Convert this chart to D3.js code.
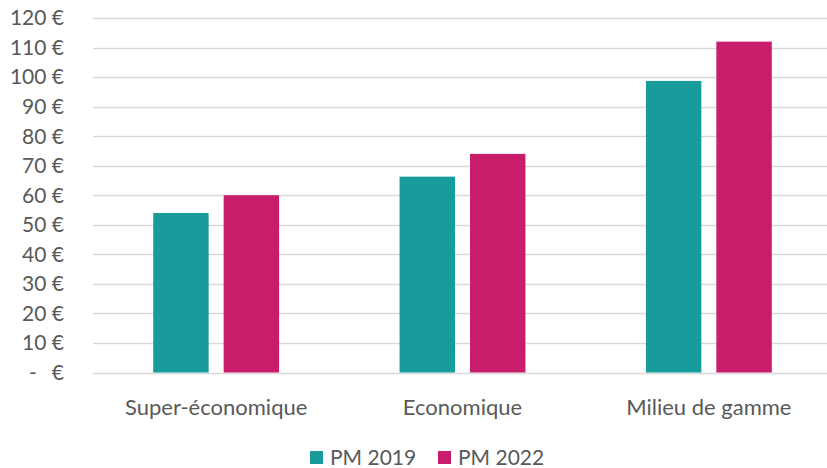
<html>
  <head>
    <title>Prix moyen</title>
    <script type="text/javascript" src="https://cdn.jsdelivr.net/npm/d3@7"></script>
    <style type="text/css">

body {
  margin: 0;
  background: #fff;
}

text {
  font-family: Lato, "Open Sans", sans-serif;
  fill: #595959;
}

    </style>
  </head>
  <body>
    <script type="text/javascript">

var categories = ["Super-économique", "Economique", "Milieu de gamme"],
    series = ["PM 2019", "PM 2022"],
    pm2019 = [54, 66.3, 98.7],
    pm2022 = [60, 74, 112],
    yTicks = [0, 10, 20, 30, 40, 50, 60, 70, 80, 90, 100, 110, 120],
    colors = ["#179b9b", "#c81d6b"];

var w = 827,
    h = 468,
    mLeft = 93,
    mRight = 832,   // plot runs slightly past the right edge
    mTop = 18,
    mBottom = 372.5;

var values = [pm2019, pm2022];

var svg = d3.select("body")
  .append("svg")
    .attr("width", w)
    .attr("height", h);

var y = d3.scaleLinear()
    .domain([0, 120])
    .range([mBottom, mTop]);

var x0 = d3.scaleBand()
    .domain(categories)
    .range([mLeft, mRight])
    .paddingInner(0.489)
    .paddingOuter(0.2444);

var x1 = d3.scaleBand()
    .domain(series)
    .range([0, x0.bandwidth()])
    .paddingInner(0.213);

// gridlines
svg.append("g")
  .selectAll("line")
    .data(yTicks)
  .enter().append("line")
    .attr("x1", mLeft)
    .attr("x2", mRight)
    .attr("y1", function(d) { return Math.round(y(d)) + 0.5; })
    .attr("y2", function(d) { return Math.round(y(d)) + 0.5; })
    .attr("stroke", "#d9d9d9")
    .attr("stroke-width", 1.3);

// y labels
var yl = svg.append("g")
  .selectAll("text")
    .data(yTicks)
  .enter().append("text")
    .attr("y", function(d) { return y(d); })
    .attr("dy", ".35em")
    .style("font-size", "21px");

yl.filter(function(d) { return d > 0; })
    .attr("x", 64)
    .attr("text-anchor", "end")
    .text(function(d) { return d + " €"; });

yl.filter(function(d) { return d === 0; })
    .attr("x", 29)
    .text("-")
  .append("tspan")
    .attr("x", 64)
    .attr("text-anchor", "end")
    .text("€");

// bars
var groups = svg.append("g")
  .selectAll("g")
    .data(categories)
  .enter().append("g")
    .attr("transform", function(d) { return "translate(" + x0(d) + ",0)"; });

groups.selectAll("rect")
    .data(function(d, i) { return series.map(function(s, j) { return {s: s, j: j, v: values[j][i]}; }); })
  .enter().append("rect")
    .attr("x", function(d) { return x1(d.s); })
    .attr("y", function(d) { return y(d.v); })
    .attr("width", x1.bandwidth())
    .attr("height", function(d) { return y(0) - y(d.v); })
    .attr("fill", function(d) { return colors[d.j]; });

// x labels
svg.append("g")
  .selectAll("text")
    .data(categories)
  .enter().append("text")
    .attr("x", function(d) { return x0(d) + x0.bandwidth() / 2; })
    .attr("y", 407)
    .attr("dy", ".35em")
    .attr("text-anchor", "middle")
    .style("font-size", "22px")
    .text(function(d) { return d; });

// legend
var legendX = [310, 438];

var lg = svg.append("g")
  .selectAll("g")
    .data(series)
  .enter().append("g")
    .attr("transform", function(d, i) { return "translate(" + legendX[i] + ",451)"; });

lg.append("rect")
    .attr("width", 13)
    .attr("height", 13)
    .attr("fill", function(d, i) { return colors[i]; });

lg.append("text")
    .attr("x", 20)
    .attr("y", 7)
    .attr("dy", ".35em")
    .style("font-size", "21px")
    .text(function(d) { return d; });

    </script>
  </body>
</html>
